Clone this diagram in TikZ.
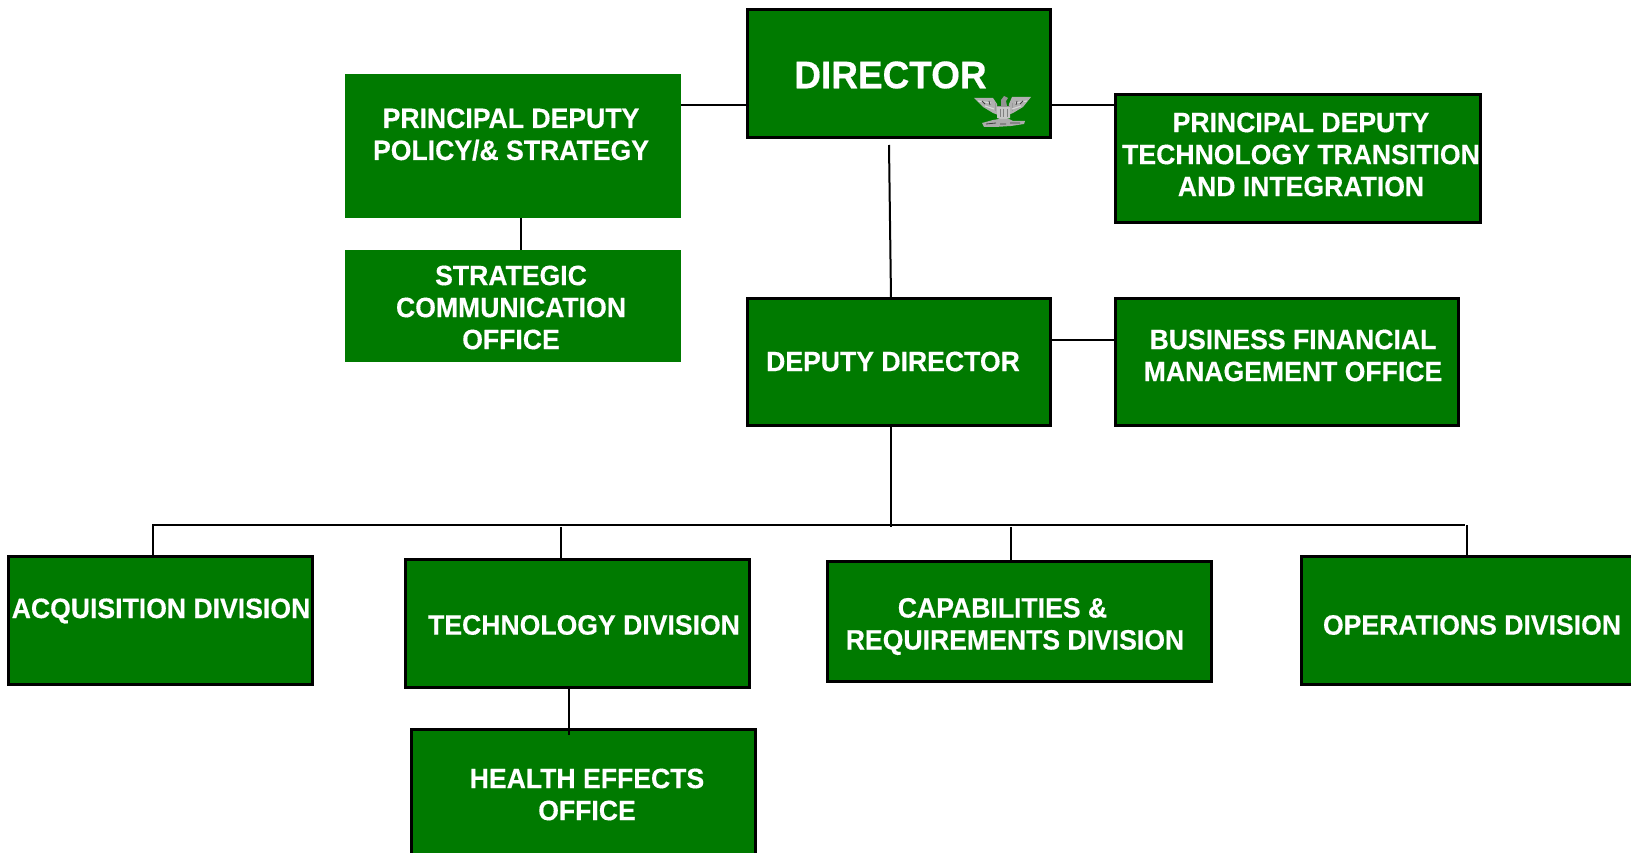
\documentclass[tikz,border=0pt]{standalone}
\usepackage{fontspec}
\setmainfont{Liberation Sans}
\newfontfamily\lblfont[FakeStretch=0.95,FakeBold=0.4]{Liberation Sans Bold}
\newfontfamily\dirfont[FakeStretch=0.96,FakeBold=0.4]{Liberation Sans Bold}
\definecolor{boxgreen}{RGB}{0,122,0}
\tikzset{
  x=1pt,y=-1pt,
  box/.style={fill=boxgreen,draw=black,line width=3pt,rectangle,inner sep=0pt},
  plainbox/.style={fill=boxgreen,rectangle,inner sep=0pt},
  lbl/.style={text=white,font=\fontsize{28}{32}\lblfont,align=center,inner sep=0pt},
  link/.style={draw=black,line width=2pt},
}
\begin{document}
\begin{tikzpicture}
\useasboundingbox (0,0) rectangle (1631,853);
\fill[white] (0,0) rectangle (1631,853);
\node[box,minimum width=303pt,minimum height=128pt] (dir) at (899,73.5) {};
\node[plainbox,minimum width=336pt,minimum height=144pt] (pol) at (513,146) {};
\node[plainbox,minimum width=336pt,minimum height=112pt] (str) at (513,306) {};
\node[box,minimum width=365pt,minimum height=128pt] (pdt) at (1298,158.5) {};
\node[box,minimum width=303pt,minimum height=127pt] (dep) at (899,362) {};
\node[box,minimum width=343pt,minimum height=127pt] (bus) at (1287,362) {};
\node[box,minimum width=304pt,minimum height=128pt] (acq) at (160.5,620) {};
\node[box,minimum width=344pt,minimum height=128pt] (tec) at (577,623) {};
\node[box,minimum width=384pt,minimum height=120pt] (cap) at (1019,621) {};
\node[box,minimum width=344pt,minimum height=128pt] (ops) at (1473.5,620) {};
\node[box,minimum width=344pt,minimum height=140pt] (hea) at (583,799.5) {};
\node[lbl,font=\fontsize{38.5}{42}\dirfont] (tdir) at (890.5,75) {DIRECTOR};
\node[lbl] (tpol) at (511,134.5) {PRINCIPAL DEPUTY\\POLICY/\& STRATEGY};
\node[lbl] (tstr) at (511,307.5) {STRATEGIC\\COMMUNICATION\\OFFICE};
\node[lbl] (tpdt) at (1301,154.5) {PRINCIPAL DEPUTY\\TECHNOLOGY TRANSITION\\AND INTEGRATION};
\node[lbl] (tdep) at (893,361.5) {DEPUTY DIRECTOR};
\node[lbl] (tbus) at (1293,355.5) {BUSINESS FINANCIAL\\MANAGEMENT OFFICE};
\node[lbl] (tacq) at (161,611) {ACQUISITION DIVISION};
\node[lbl] (ttec) at (584,625) {TECHNOLOGY DIVISION};
\node[lbl] (tcap) at (1015,626.5) {CAPABILITIES \&\hspace*{25pt}\\REQUIREMENTS DIVISION};
\node[lbl] (tops) at (1472,625) {OPERATIONS DIVISION};
\node[lbl] (thea) at (587,794.5) {HEALTH EFFECTS\\OFFICE};
% eagle insignia
\begin{scope}[shift={(1003,112)}]
  \fill[gray!62] (-29,-14) -- (-10,-14) -- (-6,-8) -- (-5,3) -- (-10,1) -- (-20,-5) -- cycle;
  \fill[gray!62] (28,-15) -- (9,-15) -- (6,-8) -- (5,3) -- (10,1) -- (20,-5) -- cycle;
  \fill[gray!45] (-6,-5) -- (7,-5) -- (7,6) -- (0,8) -- (-6,6) -- cycle;
  \fill[gray!85] (-2,-6) -- (-2,-12) -- (1,-16) -- (5,-14) -- (3,-11) -- (4,-6) -- cycle;
  \fill[gray!65] (-21,11) -- (-10,8) -- (-4,7) -- (6,7) -- (10,9) -- (22,9) -- (21,12) -- (8,14) -- (-8,15) -- (-19,15) -- cycle;
  \draw[gray!100!black,line width=.9pt] (-3,-3) -- (-3,5) (0.5,-3) -- (0.5,5) (4,-3) -- (4,5);
  \draw[gray!120!black,line width=1pt] (-6,-5) -- (7,-5) (-8,-9) -- (-8,-1) (9,-9) -- (9,-1);
  \draw[gray!30,line width=1.1pt] (-25,-11) -- (-12,-9) (24,-11) -- (12,-9) (-18,-6) -- (-9,-3) (18,-6) -- (9,-3);
  \draw[black!50!gray,line width=.8pt] (-21,-11) -- (-18,-8) (-14,-11) -- (-13,-7) (20,-11) -- (17,-8) (14,-11) -- (13,-7) (-17,12) -- (-7,11) (7,11) -- (17,11) (-3,12) -- (3,12);
\end{scope}
% connector anchors
\coordinate (dirl) at (dir.west |- 0,105.5);
\coordinate (dirr) at (dir.east |- 0,105.5);
\coordinate (poll) at (pol.east |- 0,105.5);
\coordinate (pdtl) at (pdt.west |- 0,105.5);
\coordinate (dirtop) at (889,145);
\coordinate (depd) at (891,298);
\coordinate (depb) at (891,426);
\coordinate (busl) at (bus.west |- 0,340);
\coordinate (depr) at (dep.east |- 0,340);
\coordinate (polb) at (521,218);
\coordinate (strt) at (521,250);
\coordinate (barl) at (153,525);
\coordinate (barr) at (1464.5,525);
\coordinate (bard) at (891,527);
\coordinate (bartec) at (560.5,527);
\coordinate (barcap) at (1010.5,527);
\coordinate (baropsr) at (1467,525);
\coordinate (tecb) at (569,688);
\coordinate (heat) at (569,735);
\draw[link] (poll) -- (dirl);
\draw[link] (dirr) -- (pdtl);
\draw[link] (dirtop) -- (depd);
\draw[link] (depr) -- (busl);
\draw[link] (polb) -- (strt);
\draw[link] (depb) -- (bard);
\draw[link] (acq.north -| barl) -- (barl) -- (barr);
\draw[link] (baropsr) -- (ops.north -| baropsr);
\draw[link] (bartec) -- (tec.north -| bartec);
\draw[link] (barcap) -- (cap.north -| barcap);
\draw[link] (tecb) -- (heat);
\end{tikzpicture}
\end{document}
